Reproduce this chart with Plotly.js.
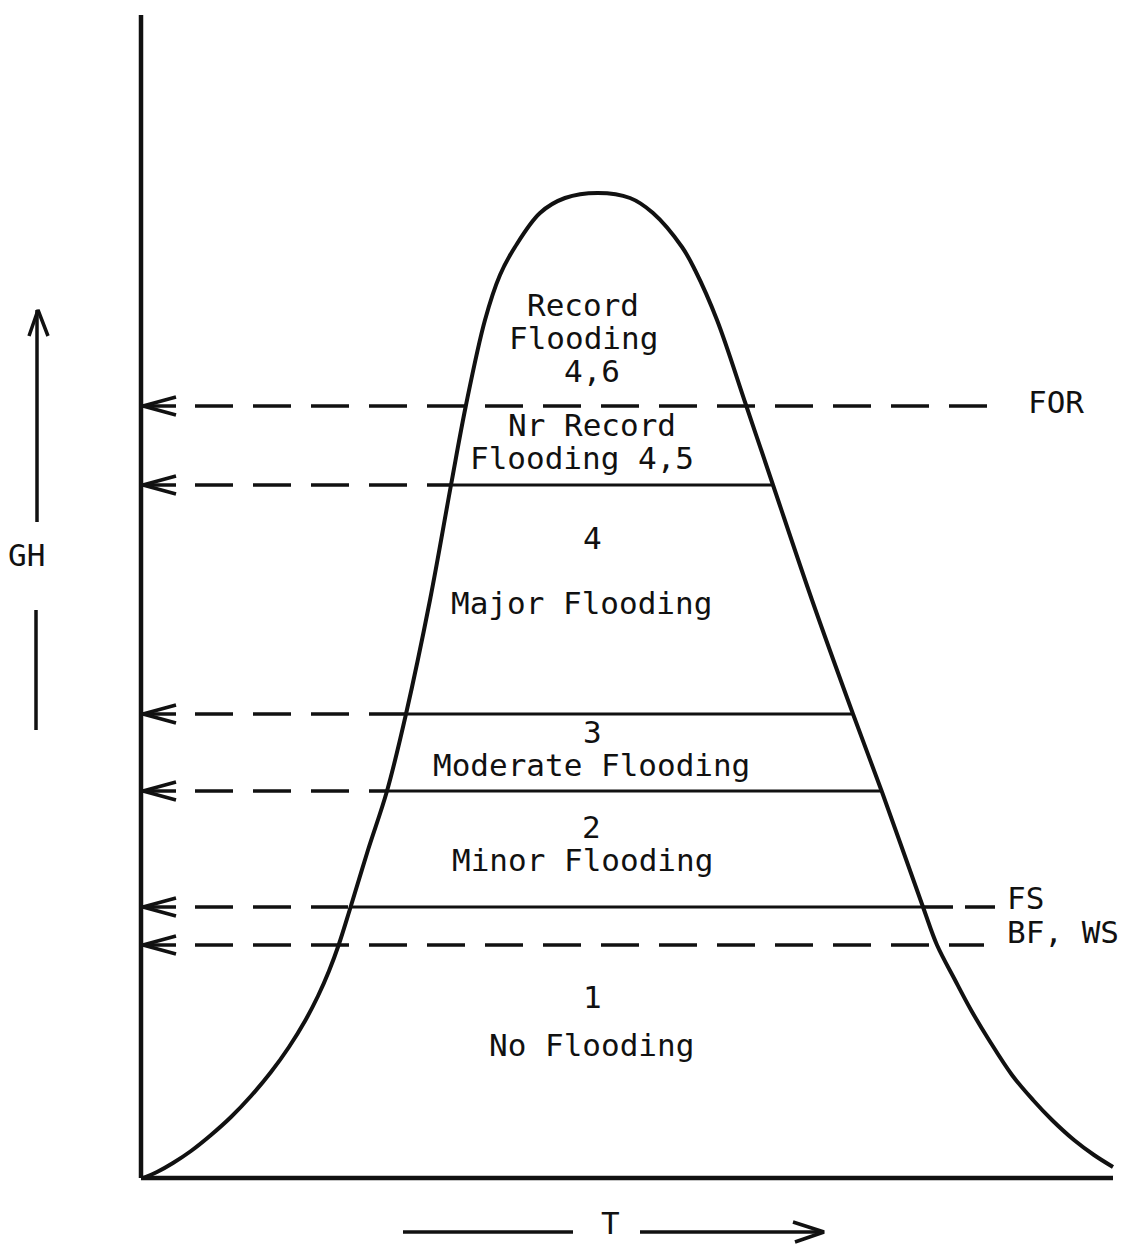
<!DOCTYPE html>
<html>
<head>
<meta charset="utf-8">
<script src="https://cdn.plot.ly/plotly-3.0.1.min.js"></script>
<style>html,body{margin:0;padding:0;background:#fff;}#chart{width:1127px;height:1247px;}</style>
</head>
<body>
<div id="chart"></div>
<script>
// Hydrograph (T vs GH)
const curveT  = [2, 16, 32, 50, 70, 90, 110, 130, 148, 164, 177, 188, 198, 209, 227, 246, 265, 289, 310, 325, 344, 359, 374, 399, 424, 457,
                 489, 512, 541, 554, 576, 605, 632, 671, 712, 741, 782, 796, 814, 830, 848, 871, 892, 911, 933, 953, 972];
const curveGH = [0, 6, 15, 27, 43, 61, 82, 106, 131, 157, 182, 207, 234, 269, 328, 387, 464, 578, 693, 773, 858, 903, 931, 965, 980, 985,
                 980, 965, 931, 908, 858, 773, 693, 578, 464, 386, 271, 233, 198, 168, 138, 103, 78, 58, 38, 23, 11];

// stage levels (dashed reference lines from the GH axis)
const levelGH      = [772, 693, 464, 387, 271, 233];
const levelDashEnd = [860, 310, 266, 246, 207, 843];

// solid category dividers inside the hydrograph
const dividerGH     = [693, 464, 387, 271];
const dividerLeftT  = [310, 265, 246, 209];
const dividerRightT = [632, 712, 741, 782];

// FS dashed continuation on the right
const fsDashT = [782, 857];
const fsGH = 271;

// axes extent
const axisTopGH = 1163;
const axisEndT = 972;

// labels
const regionText = ['Record', 'Flooding', '4,6', 'Nr Record', 'Flooding 4,5', '4', 'Major Flooding',
                    '3', 'Moderate Flooding', '2', 'Minor Flooding', '1', 'No Flooding'];
const regionT  = [442, 442, 451, 451, 441, 451, 440, 451, 450, 450, 441, 451, 450];
const regionGH = [873, 840, 807, 753, 720, 640, 575, 446, 413, 351, 318, 181, 133];

const sideText = ['FOR', 'FS', 'BF, WS'];
const sideT    = [885, 864, 864];
const sideGH   = [776, 280, 246];

const yTitle = 'GH';
const xTitle = 'T';

const FONT = 'DejaVu Sans Mono, monospace';
const traces = [];
const black = '#111';

function line(x, y, w, dash) {
  traces.push({type: 'scatter', mode: 'lines', x: x, y: y, hoverinfo: 'skip', showlegend: false,
    line: {color: black, width: w, dash: dash || 'solid', shape: 'linear'}});
}

// axes
line([0, 0], [0, axisTopGH], 4.5);
line([0, axisEndT], [0, 0], 4.5);

// hydrograph curve
traces.push({type: 'scatter', mode: 'lines', x: curveT, y: curveGH, hoverinfo: 'skip', showlegend: false,
  line: {color: black, width: 4, shape: 'spline', smoothing: 1.0}});

// dashed stage lines with open arrowheads at the GH axis
levelGH.forEach((g, i) => {
  line([54, levelDashEnd[i]], [g, g], 3.5, '38px,20px');
  line([35, 2, 35], [g + 9, g, g - 9], 3.5);
  line([2, 35], [g, g], 3.5);
});
line(fsDashT, [fsGH, fsGH], 3.5, '30px,12px');

// solid dividers
dividerGH.forEach((g, i) => line([dividerLeftT[i], dividerRightT[i]], [g, g], 3));

// GH axis label arrow
line([-104, -104], [656, 868], 3.5);
line([-112, -103, -93], [842, 868, 842], 3.5);
line([-105, -105], [448, 568], 3.5);

// T axis label arrow
line([262, 432], [-54, -54], 3.5);
line([499, 683], [-54, -54], 3.5);
line([652, 683, 654], [-44, -54, -64], 3.5);

const annotations = [];
regionText.forEach((t, i) => annotations.push({x: regionT[i], y: regionGH[i], xref: 'x', yref: 'y', text: t,
  showarrow: false, xanchor: 'center', yanchor: 'middle', font: {family: FONT, size: 31, color: black}}));
sideText.forEach((t, i) => annotations.push({x: sideT[i], y: sideGH[i], xref: 'x', yref: 'y', text: t,
  showarrow: false, xanchor: 'left', yanchor: 'middle', font: {family: FONT, size: 31, color: black}}));
annotations.push({x: -115, y: 623, xref: 'x', yref: 'y', text: yTitle, showarrow: false,
  xanchor: 'center', yanchor: 'middle', font: {family: FONT, size: 31, color: black}});
annotations.push({x: 469, y: -45, xref: 'x', yref: 'y', text: xTitle, showarrow: false,
  xanchor: 'center', yanchor: 'middle', font: {family: FONT, size: 31, color: black}});

const layout = {
  width: 1127, height: 1247,
  margin: {l: 0, r: 0, t: 0, b: 0, pad: 0},
  paper_bgcolor: '#fff', plot_bgcolor: '#fff',
  xaxis: {range: [-141, 986], visible: false, fixedrange: true},
  yaxis: {range: [-69, 1178], visible: false, fixedrange: true},
  annotations: annotations,
  showlegend: false
};

Plotly.newPlot('chart', traces, layout, {staticPlot: true, displayModeBar: false});
</script>
</body>
</html>
